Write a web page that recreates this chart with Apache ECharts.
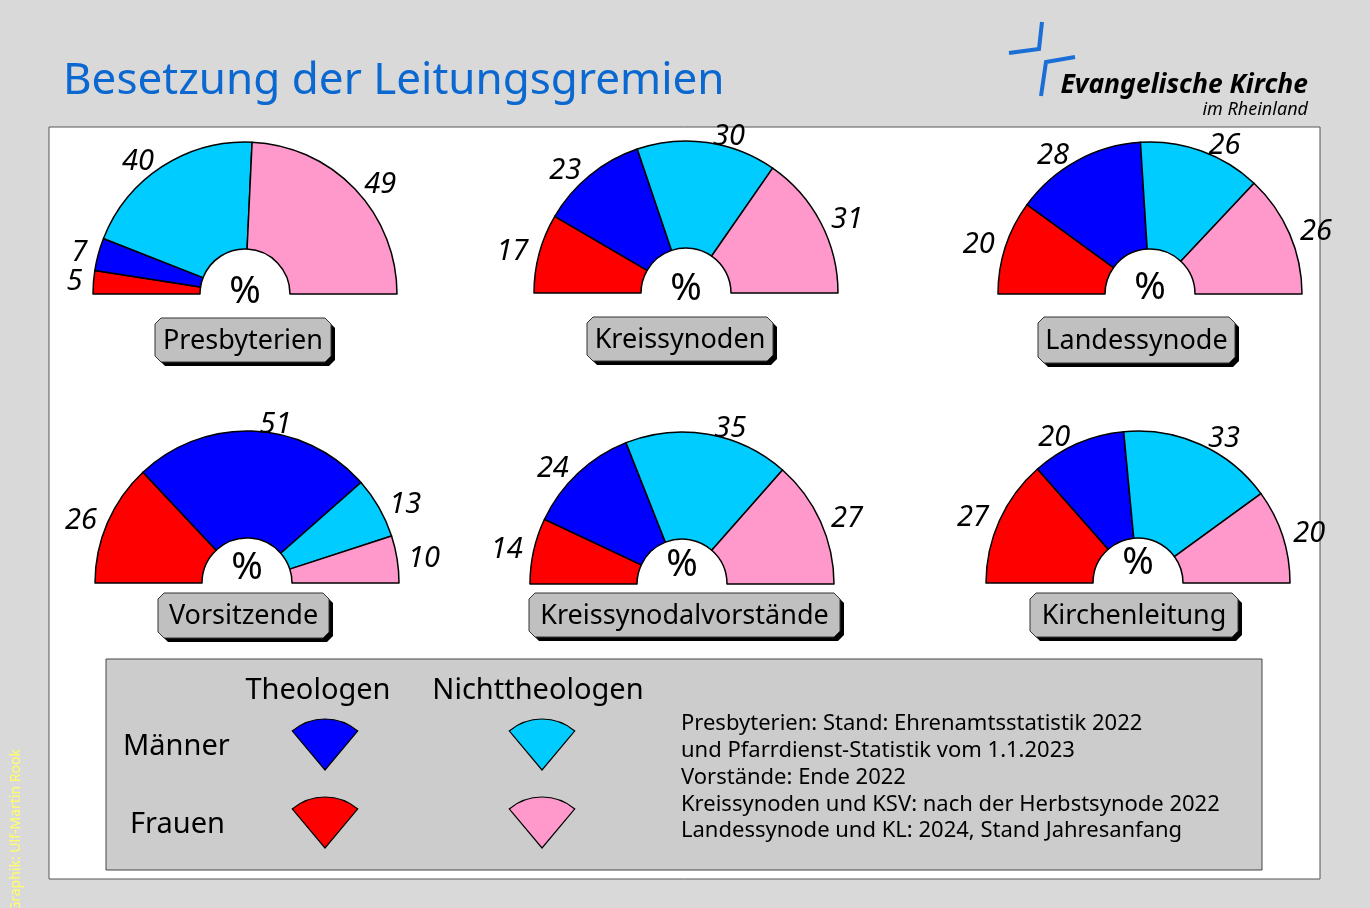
<!DOCTYPE html>
<html>
<head>
<meta charset="utf-8">
<script src="https://cdn.jsdelivr.net/npm/echarts@6.0.0/dist/echarts.min.js"></script>
<style>
  html, body { margin: 0; padding: 0; background: #d9d9d9; }
  #main { width: 1370px; height: 908px; }
</style>
</head>
<body>
<div id="main"></div>
<script>
// groups, left to right around each half circle
var groups = ['Frauen Theologen', 'Männer Theologen', 'Männer Nichttheologen', 'Frauen Nichttheologen'];
var colors = ['#ff0000', '#0000ff', '#00ccff', '#ff99cc'];

var gremien = ['Presbyterien', 'Kreissynoden', 'Landessynode', 'Vorsitzende', 'Kreissynodalvorstände', 'Kirchenleitung'];
var presbyterien = [5, 7, 40, 49];
var kreissynoden = [17, 23, 30, 31];
var landessynode = [20, 28, 26, 26];
var vorsitzende = [26, 51, 13, 10];
var ksv = [14, 24, 35, 27];
var kirchenleitung = [27, 20, 33, 20];
var values = [presbyterien, kreissynoden, landessynode, vorsitzende, ksv, kirchenleitung];

var notes = [
    'Presbyterien: Stand: Ehrenamtsstatistik 2022',
    'und Pfarrdienst-Statistik vom 1.1.2023',
    'Vorstände: Ende 2022',
    'Kreissynoden und KSV: nach der Herbstsynode 2022',
    'Landessynode und KL: 2024, Stand Jahresanfang'
];

// layout
var centers = [[245, 294], [686, 293], [1150, 294], [247, 583], [682, 584], [1138, 583]];
var percentY = [292, 289, 288, 568, 565, 563];
var boxes = [[155, 318, 331, 362], [587, 317, 773, 361], [1038, 317, 1235, 363],
             [158, 593, 329, 638], [529, 593, 840, 637], [1030, 593, 1238, 637]];

var font = '"Noto Sans", "Open Sans", sans-serif';

function chamfer(b, dx, dy) {
    var c = 6;
    var x0 = b[0] + dx, y0 = b[1] + dy, x1 = b[2] + dx, y1 = b[3] + dy;
    return [[x0 + c, y0], [x1 - c, y0], [x1, y0 + c], [x1, y1 - c],
            [x1 - c, y1], [x0 + c, y1], [x0, y1 - c], [x0, y0 + c]];
}

var series = [];
var elements = [];

// background panel + legend box
elements.push({
    type: 'rect', shape: { x: 49, y: 127, width: 1271, height: 752 },
    style: { fill: '#ffffff', stroke: '#555555', lineWidth: 1 }, z: -10
});
elements.push({
    type: 'rect', shape: { x: 106, y: 659, width: 1156, height: 211 },
    style: { fill: '#cccccc', stroke: '#444444', lineWidth: 1 }, z: -5
});

values.forEach(function (vals, i) {
    series.push({
        type: 'pie',
        name: gremien[i],
        center: centers[i],
        radius: [45, 152],
        startAngle: 180,
        endAngle: 0,
        clockwise: true,
        silent: true,
        avoidLabelOverlap: false,
        itemStyle: { borderColor: '#000', borderWidth: 1.5 },
        label: {
            show: true, position: 'outside', formatter: '{c}',
            fontFamily: font, fontStyle: 'italic', fontSize: 29, color: '#000'
        },
        labelLine: { show: false, length: 6, length2: 0 },
        emphasis: { disabled: true },
        data: groups.map(function (g, j) {
            return { name: g, value: vals[j], itemStyle: { color: colors[j] } };
        })
    });

    // percent sign in the hole
    elements.push({
        type: 'text', x: centers[i][0], y: percentY[i],
        style: { text: '%', font: '38px ' + font, fill: '#000', align: 'center', verticalAlign: 'middle', textAlign: 'center', textVerticalAlign: 'middle' }
    });

    // name box with shadow
    var b = boxes[i];
    elements.push({ type: 'polygon', shape: { points: chamfer(b, 4, 4) }, style: { fill: '#000' } });
    elements.push({ type: 'polygon', shape: { points: chamfer(b, 0, 0) }, style: { fill: '#c0c0c0', stroke: '#333', lineWidth: 1 } });
    elements.push({
        type: 'text', x: (b[0] + b[2]) / 2, y: (b[1] + b[3]) / 2 + 1,
        style: { text: gremien[i], font: '27px ' + font, fill: '#000', align: 'center', verticalAlign: 'middle', textAlign: 'center', textVerticalAlign: 'middle' }
    });
});

// title
elements.push({
    type: 'text', x: 63, y: 81,
    style: { text: 'Besetzung der Leitungsgremien', font: '44px ' + font, fill: '#0a68d0', align: 'left', verticalAlign: 'middle', textAlign: 'left', textVerticalAlign: 'middle' }
});

// logo
elements.push({ type: 'polyline', shape: { points: [[1042, 22], [1039, 49], [1009, 53]] }, style: { stroke: '#1a6fd6', lineWidth: 4, fill: null } });
elements.push({ type: 'polyline', shape: { points: [[1075, 57], [1046, 62], [1041, 96]] }, style: { stroke: '#1a6fd6', lineWidth: 4, fill: null } });
elements.push({
    type: 'text', x: 1308, y: 85,
    style: { text: 'Evangelische Kirche', font: 'italic bold 26.5px ' + font, fill: '#000', align: 'right', verticalAlign: 'middle', textAlign: 'right', textVerticalAlign: 'middle' }
});
elements.push({
    type: 'text', x: 1308, y: 110,
    style: { text: 'im Rheinland', font: 'italic 18px ' + font, fill: '#000', align: 'right', verticalAlign: 'middle', textAlign: 'right', textVerticalAlign: 'middle' }
});

// credit
elements.push({
    type: 'text', x: 16, y: 912, rotation: Math.PI / 2,
    style: { text: 'Graphik: Ulf-Martin Rook', font: '14px ' + font, fill: '#ffff66', align: 'left', verticalAlign: 'middle', textAlign: 'left', textVerticalAlign: 'middle' }
});

// legend
function legendText(txt, x, y, align) {
    elements.push({
        type: 'text', x: x, y: y,
        style: { text: txt, font: '29px ' + font, fill: '#000', align: align, verticalAlign: 'middle', textAlign: align, textVerticalAlign: 'middle' }
    });
}
legendText('Theologen', 318, 691, 'center');
legendText('Nichttheologen', 538, 691, 'center');
legendText('Männer', 123, 747, 'left');
legendText('Frauen', 130, 825, 'left');

var legendPos = [[325, 848], [325, 770], [542, 770], [542, 848]];
groups.forEach(function (g, j) {
    elements.push({
        type: 'sector',
        shape: { cx: legendPos[j][0], cy: legendPos[j][1], r: 51, r0: 0,
                 startAngle: -130 * Math.PI / 180, endAngle: -50 * Math.PI / 180, clockwise: true },
        style: { fill: colors[j], stroke: '#000', lineWidth: 1.2 }
    });
});

notes.forEach(function (line, k) {
    elements.push({
        type: 'text', x: 681, y: 724 + k * 26.8,
        style: { text: line, font: '22px ' + font, fill: '#000', align: 'left', verticalAlign: 'middle', textAlign: 'left', textVerticalAlign: 'middle' }
    });
});

var chart = echarts.init(document.getElementById('main'));
chart.setOption({
    backgroundColor: '#d9d9d9',
    animation: false,
    graphic: { elements: elements },
    series: series
});
</script>
</body>
</html>
